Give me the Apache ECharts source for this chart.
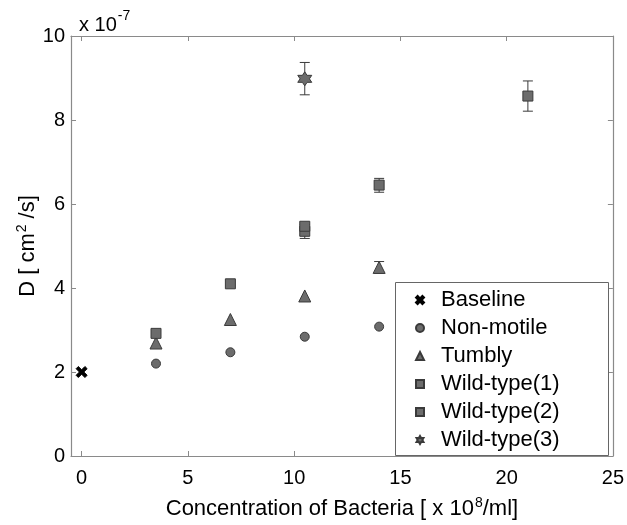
<!DOCTYPE html>
<html><head><meta charset="utf-8">
<script src="https://cdn.jsdelivr.net/npm/echarts@6/dist/echarts.min.js"></script>
<style>html,body{margin:0;padding:0;background:#fff}#c{width:627px;height:525px}</style>
</head><body><div id="c"></div>
<script>
const xTicks = [0, 5, 10, 15, 20, 25];
const baselineX = [0], baselineY = [2.0];
const nonMotileX = [3.5, 7, 10.5, 14], nonMotileY = [2.2, 2.47, 2.84, 3.08];
const tumblyX = [3.5, 7, 10.5, 14], tumblyY = [2.69, 3.25, 3.81, 4.49];
const wt1X = [3.5, 7, 10.5], wt1Y = [2.92, 4.1, 5.35];
const wt2X = [10.5, 14, 21], wt2Y = [5.47, 6.45, 8.57];
const wt3X = [10.5], wt3Y = [8.98];
const errX = [10.5, 14, 21, 10.5, 14];
const errLo = [5.18, 6.28, 8.21, 8.60, 4.35];
const errHi = [5.51, 6.61, 8.93, 9.37, 4.63];

const zip = (xs, ys) => xs.map((x, i) => [x, ys[i]]);
const FONT = 'Liberation Sans, Arial, Helvetica, sans-serif';
const AX = '#8a8a8a';
const FILL = '#6c6c6c', EDGE = '#3a3a3a';
const X_PATH = 'path://M0,2L2,0L5,3L8,0L10,2L7,5L10,8L8,10L5,7L2,10L0,8L3,5Z';
const STAR_PATH = 'path://M5,0L6.44,2.5L9.33,2.5L7.89,5L9.33,7.5L6.44,7.5L5,10L3.56,7.5L0.67,7.5L2.11,5L0.67,2.5L3.56,2.5Z';

const chart = echarts.init(document.getElementById('c'), null, {renderer: 'canvas'});
const mk = (name, data, symbol, size, color) => ({
  name, type: 'scatter', data, symbol, symbolSize: size, z: 5,
  itemStyle: {color: color || FILL, borderColor: color || EDGE, borderWidth: 1, opacity: 1}
});
const baseAxisX = {
  type: 'value', min: -0.5, max: 25,
  axisLine: {show: true, onZero: false, lineStyle: {color: AX, width: 1.2}},
  splitLine: {show: false},
  axisTick: {inside: true, length: 5, lineStyle: {color: AX}, customValues: xTicks},
  axisLabel: {show: true, customValues: xTicks, color: '#000', fontSize: 20, fontFamily: FONT, margin: 12}
};
const baseAxisY = {
  type: 'value', min: 0, max: 10, interval: 2,
  axisLine: {show: true, onZero: false, lineStyle: {color: AX, width: 1.2}},
  splitLine: {show: false},
  axisTick: {inside: true, length: 5, lineStyle: {color: AX}},
  axisLabel: {color: '#000', fontSize: 20, fontFamily: FONT, margin: 6}
};
const richName = {
  a: {fontSize: 22, fontFamily: FONT, color: '#000', lineHeight: 24, verticalAlign: 'bottom'},
  s: {fontSize: 14, fontFamily: FONT, color: '#000', lineHeight: 24, verticalAlign: 'top', padding: [0, 0, 0, 1]}
};
chart.setOption({
  animation: false,
  backgroundColor: '#fff',
  grid: {left: 71, right: 13, top: 36, bottom: 61, containLabel: false},
  xAxis: [
    Object.assign({}, baseAxisX, {
      position: 'bottom',
      name: '{a|Concentration of Bacteria [ x 10}{s|8}{a|/ml]}',
      nameLocation: 'middle', nameGap: 40,
      nameTextStyle: {rich: richName}
    }),
    Object.assign({}, baseAxisX, {position: 'top', axisLabel: {show: false}})
  ],
  yAxis: [
    Object.assign({}, baseAxisY, {
      position: 'left',
      name: '{a|D [ cm}{s|2}{a| /s]}',
      nameLocation: 'middle', nameGap: 32, nameRotate: 90, nameMoveOverlap: false,
      nameTextStyle: {rich: richName}
    }),
    Object.assign({}, baseAxisY, {position: 'right', axisLabel: {show: false}})
  ],
  legend: {
    orient: 'vertical', left: 410, top: 284,
    itemWidth: 8, itemHeight: 8, itemGap: 6,
    textStyle: {fontSize: 22, fontFamily: FONT, color: '#000', lineHeight: 21, padding: [0, 0, 0, 12]},
    data: ['Baseline', 'Non-motile', 'Tumbly', 'Wild-type(1)', 'Wild-type(2)', 'Wild-type(3)'],
    z: 20
  },
  graphic: [
    {type: 'rect', left: 395, top: 282, shape: {width: 213, height: 173},
     style: {fill: '#fff', stroke: '#666', lineWidth: 1}, z: 10},
    {type: 'text', left: 79, top: 9, z: 10,
     style: {text: '{a|x 10}{s|-7}', rich: {
       a: {fontSize: 20, fontFamily: FONT, fill: '#000', lineHeight: 26, verticalAlign: 'bottom'},
       s: {fontSize: 14, fontFamily: FONT, fill: '#000', lineHeight: 26, verticalAlign: 'top', padding: [0, 0, 0, 1]}
     }}}
  ],
  series: [
    {
      name: 'errorbars', type: 'custom', z: 4,
      data: errX.map((x, i) => [x, errLo[i], errHi[i]]),
      renderItem: function (params, api) {
        const x = api.value(0);
        const lo = api.coord([x, api.value(1)]);
        const hi = api.coord([x, api.value(2)]);
        const w = 5;
        const st = {stroke: '#3a3a3a', lineWidth: 1};
        return {type: 'group', children: [
          {type: 'line', shape: {x1: lo[0], y1: lo[1], x2: hi[0], y2: hi[1]}, style: st},
          {type: 'line', shape: {x1: lo[0] - w, y1: lo[1], x2: lo[0] + w, y2: lo[1]}, style: st},
          {type: 'line', shape: {x1: hi[0] - w, y1: hi[1], x2: hi[0] + w, y2: hi[1]}, style: st}
        ]};
      }
    },
    mk('Baseline', zip(baselineX, baselineY), X_PATH, 11, '#000'),
    mk('Non-motile', zip(nonMotileX, nonMotileY), 'circle', 9),
    mk('Tumbly', zip(tumblyX, tumblyY), 'triangle', 12),
    mk('Wild-type(1)', zip(wt1X, wt1Y), 'rect', 10),
    mk('Wild-type(2)', zip(wt2X, wt2Y), 'rect', 10),
    mk('Wild-type(3)', zip(wt3X, wt3Y), STAR_PATH, 14)
  ]
});
</script></body></html>
